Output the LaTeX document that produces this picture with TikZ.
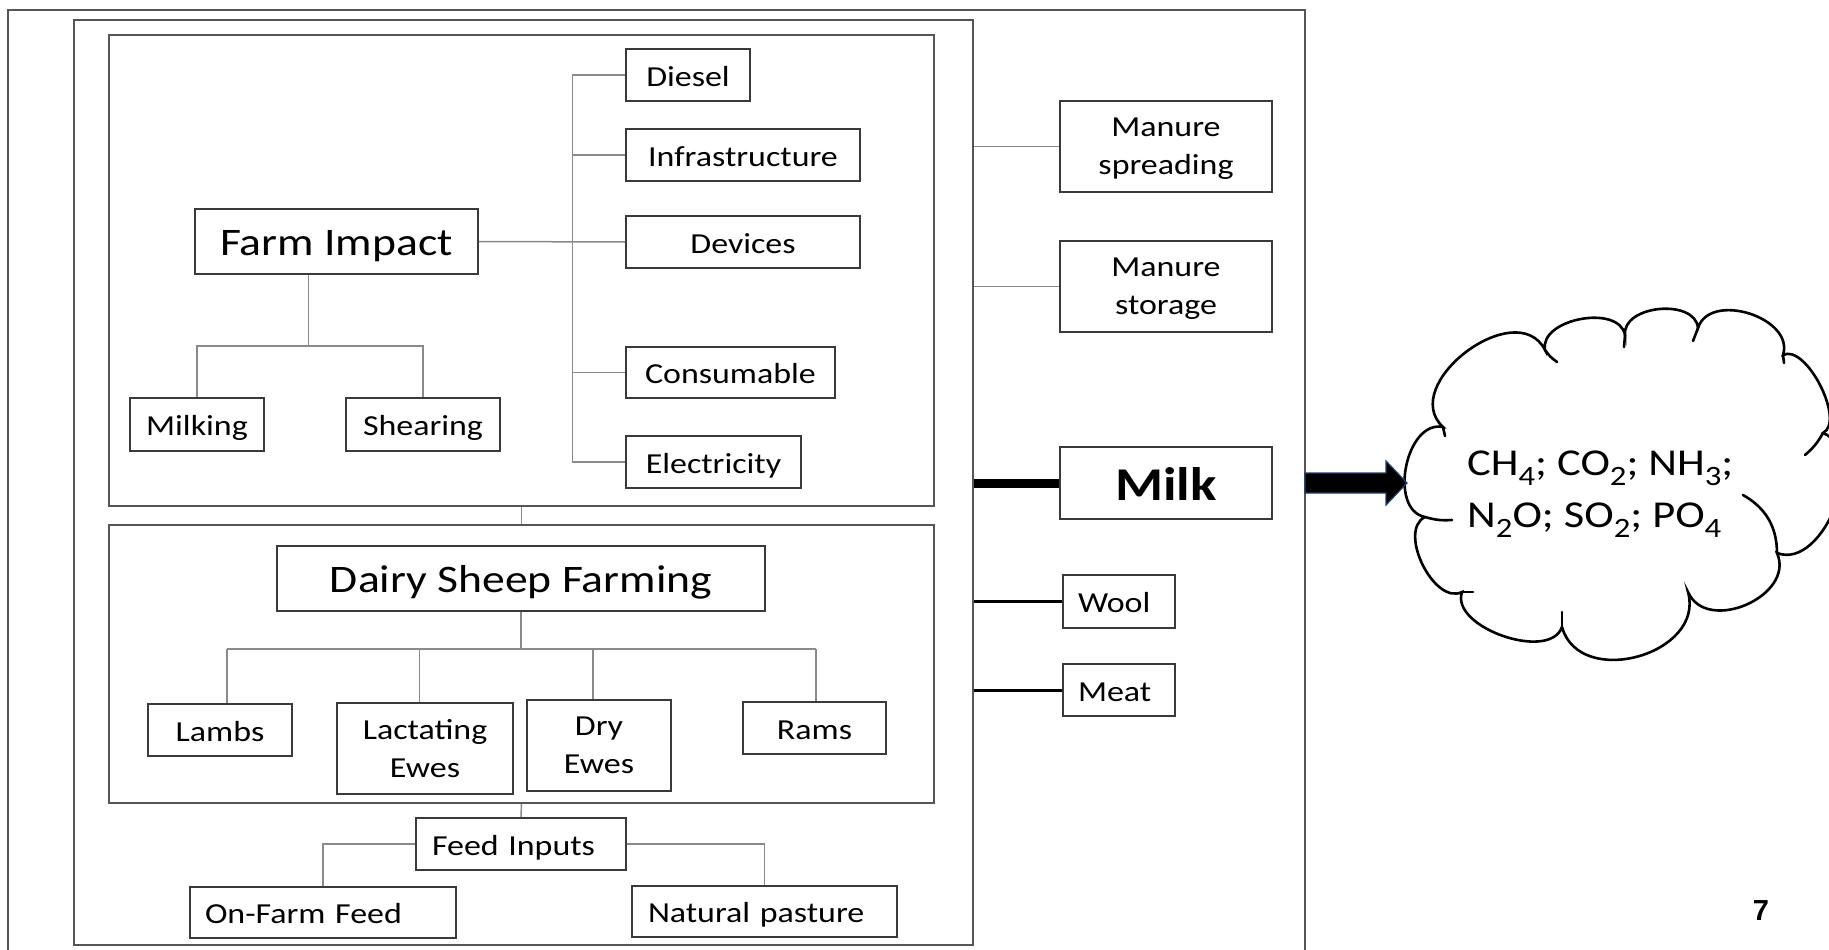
\documentclass[tikz,border=0pt]{standalone}
\usepackage{fontspec}
\setmainfont{Carlito}[FakeStretch=1.17]
\newfontfamily\pagefont{Liberation Sans}
\usetikzlibrary{calc}
\definecolor{boxcol}{HTML}{3A3A3A}
\definecolor{framecol}{HTML}{555555}
\definecolor{linkcol}{HTML}{8A8A8A}
\definecolor{arrowedge}{HTML}{1F3F6A}
\newcommand\sbs[1]{\raisebox{-0.27em}{\fontsize{28}{28}\selectfont #1}}
\tikzset{
  frame/.style={draw=framecol, line width=2pt},
  panel/.style={draw=framecol, line width=2pt, inner sep=0pt},
  sz/.style 2 args={minimum width=#1pt, minimum height=#2pt},
  item2/.style={draw=boxcol, line width=2pt, fill=white, inner sep=0pt, align=center, text depth=0pt, font=\fontsize{29}{38}\selectfont},
  item/.style={item2, text height=22pt},
  title/.style={item, text height=27pt, font=\fontsize{39}{47}\selectfont},
  link/.style={draw=linkcol, line width=1.5pt},
  outlink/.style={draw=black, line width=3pt},
  cloudline/.style={draw=black, line width=2.6pt, line cap=round},
}
\begin{document}
\begin{tikzpicture}[x=1pt,y=-1pt]
\useasboundingbox[fill=white] (0,0) rectangle (1829,950);
% outer open frame
\coordinate (oBL) at (8,950);
\coordinate (oTL) at (8,10);
\coordinate (oTR) at (1305,10);
\coordinate (oBR) at (1305,950);
\draw[frame] (oBL) -- (oTL) -- (oTR) -- (oBR);
% panels
\node[panel, sz={899}{925}] (mid) at (523.5,482.5) {};
\node[panel, sz={825}{471}] (fbox) at (521.5,270.5) {};
\node[panel, sz={825}{278}] (dbox) at (521.5,664) {};
% farm impact part
\node[item, sz={124}{52}] (diesel) at (688,75) {Diesel};
\node[item, sz={234}{52}] (infra) at (743,155) {Infrastructure};
\node[item, sz={234}{52}] (devices) at (743,242) {Devices};
\node[item, sz={209}{51}] (consum) at (730.5,372.5) {Consumable};
\node[item, sz={175}{52}] (elec) at (713.5,462) {Electricity};
\node[title, sz={283}{65}] (farm) at (336.5,241.5) {Farm Impact};
\node[item, sz={134}{53}] (milking) at (197,424.5) {Milking};
\node[item, sz={154}{53}] (shearing) at (423,424.5) {Shearing};
\coordinate (busT) at (572.5,75);
\coordinate (busB) at (572.5,462);
\draw[link] (diesel.west) -- (busT) -- (busB) -- (elec.west);
\draw[link] (infra.west) -- (infra.west -| busT);
\draw[link] (consum.west) -- (consum.west -| busT);
\draw[link] (farm.east) -- (devices.west);
\coordinate (fiBar) at (308.5,346);
\draw[link] (farm.south -| fiBar) -- (fiBar);
\draw[link] (milking.north) |- (fiBar) -| (shearing.north);
% dairy part
\node[title, sz={488}{65}] (dsf) at (521,578.5) {Dairy Sheep Farming};
\node[item, sz={144}{52}] (lambs) at (220,730) {Lambs};
\node[item2, sz={176}{91}] (lact) at (425,748.5) {Lactating\\Ewes};
\node[item2, sz={144}{91}] (dry) at (599,745.5) {Dry\\Ewes};
\node[item, sz={143}{52}] (rams) at (814.5,728) {Rams};
\coordinate (dBar) at (521,649);
\coordinate (lamX) at (227,649);
\coordinate (lacX) at (419.5,649);
\coordinate (dryX) at (593,649);
\coordinate (ramX) at (816,649);
\draw[link] (dsf.south) -- (dBar);
\draw[link] (lamX) -- (ramX);
\draw[link] (lamX) -- (lamX |- lambs.north);
\draw[link] (lacX) -- (lacX |- lact.north);
\draw[link] (dryX) -- (dryX |- dry.north);
\draw[link] (ramX) -- (ramX |- rams.north);
% feed part
\node[item, sz={210}{52}, text width=178pt, inner xsep=16pt, align=left] (feed) at (521,844) {Feed Inputs};
\node[item, sz={266}{51}, text width=236pt, inner xsep=15pt, align=left] (onfarm) at (323,912.5) {On-Farm Feed};
\node[item, sz={265}{51}, text width=233pt, inner xsep=16pt, align=left] (pasture) at (764.5,911.5) {Natural pasture};
\draw[link] (fbox.south) -- (dbox.north);
\draw[link] (dbox.south) -- (feed.north);
\draw[link] (feed.west) -| (onfarm.north);
\draw[link] (feed.east) -| (pasture.north);
% right column
\node[item2, sz={212}{91}] (mspread) at (1166,146.5) {Manure\\spreading};
\node[item2, sz={212}{91}] (mstore) at (1166,286.5) {Manure\\storage};
\node[item, sz={212}{72}, text height=34pt, font=\bfseries\fontsize{47}{56}\selectfont] (milk) at (1166,483) {Milk};
\node[item, sz={112}{53}, text width=82pt, inner xsep=15pt, align=left] (wool) at (1119,601.5) {Wool};
\node[item, sz={112}{52}, text width=82pt, inner xsep=15pt, align=left] (meat) at (1119,690) {Meat};
\draw[link] (mid.east |- mspread.west) -- (mspread.west);
\draw[link] (mid.east |- mstore.west) -- (mstore.west);
\draw[draw=black, line width=9pt] (mid.east |- milk.west) -- (milk.west);
\draw[outlink] (mid.east |- wool.west) -- (wool.west);
\draw[outlink] (mid.east |- meat.west) -- (meat.west);
% cloud
\coordinate (c1) at (1443,427);
\coordinate (c2) at (1545,350);
\coordinate (c3) at (1625,335);
\coordinate (c4) at (1698,328);
\coordinate (c5) at (1783,355);
\coordinate (c6) at (1823,433);
\coordinate (c7) at (1777,553);
\coordinate (c8) at (1688,592);
\coordinate (c9) at (1562,627);
\coordinate (c10) at (1462,592);
\coordinate (c11) at (1425,517);
\draw[cloudline, fill=white] (c11)
  to[bend left=90, looseness=1.06] (c1)
  to[bend left=100, looseness=1.25] (c2)
  to[bend left=90, looseness=1.0] (c3)
  to[bend left=90, looseness=1.05] (c4)
  to[bend left=90, looseness=1.12] (c5)
  to[bend left=90, looseness=0.75] (c6)
  to[bend left=90, looseness=1.0] (c7)
  to[bend left=90, looseness=1.23] (c8)
  to[bend left=90, looseness=1.27] (c9)
  to[bend left=90, looseness=0.9] (c10)
  to[bend left=90, looseness=0.95] (c11);
\draw[cloudline] (c1) -- ++(2,9);
\draw[cloudline] (c2) to[bend right=10] ++(12,12);
\draw[cloudline] (c3) -- ++(-1,12);
\draw[cloudline] (c4) -- ++(-5,13);
\draw[cloudline] (c5) -- ++(1,8);
\draw[cloudline] (c6) to[bend left=10] ++(-18,22);
\draw[cloudline] (c7) to[bend right=30] ++(-34,-58);
\draw[cloudline] (c9) -- ++(0,-15);
\draw[cloudline] (c10) -- ++(11,0);
\draw[cloudline] (c11) to[bend right=10] ++(27,3);
\node[anchor=base west, inner sep=0pt, font=\fontsize{38}{52}\selectfont] (gas1) at (1467,475) {CH\sbs{4}; CO\sbs{2}; NH\sbs{3};};
\node[anchor=base west, inner sep=0pt, font=\fontsize{38}{52}\selectfont] (gas2) at (1467,527) {N\sbs{2}O; SO\sbs{2}; PO\sbs{4}};
% arrow to cloud
\coordinate (arrS) at (1305,483);
\filldraw[fill=black, draw=arrowedge, line width=1.2pt] (arrS) ++(0,-10) -- ++(81,0) -- ++(0,-12) -- ++(21,22) -- ++(-21,22) -- ++(0,-12) -- ++(-81,0) -- cycle;
% page number
\node[font=\pagefont\bfseries\fontsize{29}{29}\selectfont, inner sep=0pt] (pnum) at (1761,911) {7};
\end{tikzpicture}
\end{document}
